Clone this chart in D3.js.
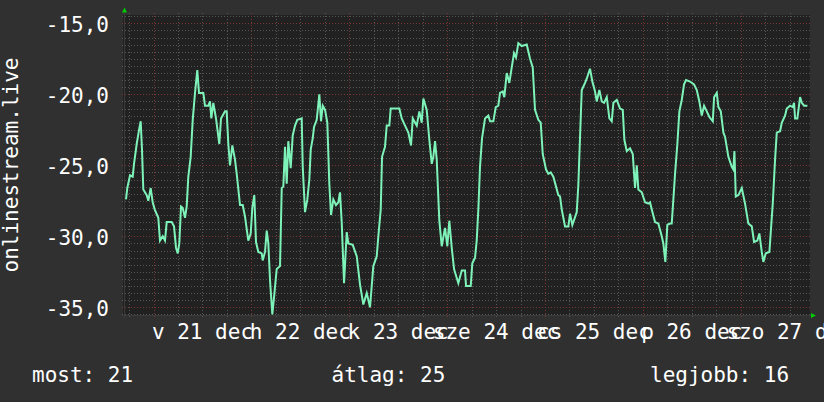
<!DOCTYPE html>
<html><head><meta charset="utf-8">
<script src="https://cdn.jsdelivr.net/npm/d3@7"></script>
<style>html,body{margin:0;padding:0;background:#303030;overflow:hidden} svg{display:block}</style>
</head><body>
<svg id="c" width="824" height="402"></svg>
<script>
// ---- data ----
const dayAbbr = ["v","h","k","sze","cs","p","szo"];
const dayNames = ["vasárnap","hétfő","kedd","szerda","csütörtök","péntek","szombat"];
const monthAbbr = ["jan","febr","márc","ápr","máj","jún","júl","aug","szept","okt","nov","dec"];
const monthNames = ["január","február","március","április","május","június","július","augusztus","szeptember","október","november","december"];
const yTickValues = [-35,-30,-25,-20,-15];
const yTitle = "onlinestream.live";
const legendLabels = ["most","átlag","legjobb"];
const legendValues = [21,25,16];
const startTime = new Date(2014,11,20,17,0);
const endTime = new Date(2014,11,27,17,0);
// hours since startTime
const hours = [0.25,0.56,1.23,1.89,2.21,2.87,3.51,3.85,4.17,4.49,5.32,5.72,6.30,6.79,7.28,8.17,8.58,9.25,9.81,10.23,11.45,12.02,12.51,12.93,13.32,13.74,14.15,14.72,15.13,15.53,16.11,16.61,17.17,17.73,18.15,19.21,19.62,20.43,20.85,21.17,21.66,22.32,23.13,23.55,24.53,24.94,25.34,25.75,26.32,26.98,27.40,28.21,28.87,29.43,30.24,30.83,31.22,31.71,32.13,32.70,33.53,33.77,34.34,34.76,35.15,35.57,36.13,36.55,37.21,38.02,38.44,38.83,39.24,39.66,40.05,40.64,41.13,41.70,42.26,43.34,43.59,44.15,44.72,45.21,45.55,46.04,46.36,47.02,47.66,48.07,48.49,49.06,49.62,50.11,50.53,51.09,51.75,52.32,52.73,53.15,53.72,54.38,54.77,55.85,56.83,57.64,
58.45,59.29,60.09,60.90,61.74,62.13,62.72,63.04,63.77,64.19,64.83,65.17,67.28,67.87,68.68,69.49,70.15,70.57,71.55,72.19,72.77,73.17,74.00,74.64,75.23,75.62,76.04,76.45,77.09,77.68,78.49,79.05,79.54,80.13,80.70,81.75,82.59,83.39,83.64,84.79,85.18,85.85,86.26,86.66,87.07,87.56,88.30,89.11,89.53,90.34,90.93,91.56,91.98,92.64,93.03,93.62,94.26,94.85,95.41,95.90,96.47,97.30,98.53,99.34,100.00,100.56,101.37,101.96,102.45,103.26,103.83,104.42,105.05,105.72,106.28,106.70,107.11,107.92,108.73,109.15,109.71,110.79,111.18,111.60,112.02,112.83,113.24,114.05,114.62,115.28,115.70,116.34,116.93,117.49,118.15,118.79,
119.38,119.78,120.61,121.41,122.08,122.47,123.06,123.87,124.53,125.09,125.51,125.90,126.74,127.54,128.35,128.77,129.18,129.99,130.80,131.64,132.03,132.52,133.01,133.68,134.09,134.49,134.90,135.47,135.96,136.55,137.11,137.60,138.58,139.56,140.23,140.86,141.45,142.02,142.68,143.32,144.16,144.48,145.14,145.54,146.12,146.76,147.17,147.98,148.82,149.21,149.46,149.80,150.44,151.27,152.07,152.88,153.72,154.28,155.09,155.58,156.17,156.56,157.15,158.04,158.45,158.87,159.43,159.85,160.66,161.07,161.88,162.30,163.11,163.77,164.09,164.34,164.90,165.57,165.99,166.55,167.36];
const values = [-27.4,-26.6,-25.7,-25.8,-24.9,-23.5,-22.4,-21.9,-23.9,-26.7,-27.1,-27.5,-26.6,-27.6,-28.1,-28.7,-30.3,-30.0,-30.3,-29.0,-29.0,-29.3,-30.8,-31.2,-30.5,-27.9,-28.0,-28.7,-27.9,-25.8,-24.4,-21.8,-19.9,-18.3,-19.9,-19.9,-20.8,-20.8,-20.5,-21.7,-20.6,-21.7,-23.5,-21.7,-21.2,-21.2,-23.5,-25.0,-23.6,-24.6,-25.6,-27.8,-27.8,-28.6,-30.3,-29.8,-28.0,-27.1,-30.4,-31.1,-31.2,-31.7,-31.1,-29.6,-30.5,-33.1,-35.5,-34.3,-32.3,-32.1,-26.6,-26.5,-23.7,-26.3,-23.3,-25.2,-22.9,-22.2,-21.8,-21.7,-25.1,-28.3,-27.4,-26.0,-23.9,-23.1,-22.3,-21.8,-20.0,-21.9,-20.8,-21.1,-22.0,-26.3,-28.5,-27.4,-27.8,-27.6,-26.9,-29.0,-33.3,-29.7,-30.5,-30.6,-31.4,-33.4,
-34.8,-34.0,-35.0,-32.1,-31.4,-30.0,-28.1,-24.4,-23.7,-22.2,-22.2,-21.0,-21.0,-21.7,-22.2,-22.7,-23.6,-21.7,-22.2,-21.2,-22.0,-20.3,-21.1,-23.2,-24.9,-24.4,-23.3,-24.6,-28.9,-30.7,-29.4,-30.7,-28.9,-30.8,-32.3,-33.3,-32.4,-32.4,-33.5,-33.5,-31.9,-31.5,-30.3,-28.1,-25.1,-23.1,-21.7,-21.5,-21.9,-21.9,-20.9,-20.8,-19.9,-19.8,-20.2,-18.5,-19.2,-18.1,-17.1,-17.4,-16.4,-16.6,-16.5,-17.5,-18.1,-21.1,-21.8,-22.0,-24.2,-25.3,-25.6,-25.5,-25.8,-26.5,-27.1,-27.2,-28.1,-29.3,-29.3,-28.4,-29.2,-28.3,-26.4,-23.0,-19.7,-19.2,-18.9,-18.2,-19.1,-19.8,-20.5,-19.7,-20.5,-20.6,-20.2,-21.7,
-21.9,-20.6,-20.4,-21.0,-21.1,-23.2,-24.0,-23.8,-24.2,-26.6,-25.0,-26.7,-26.9,-27.6,-27.7,-27.6,-28.1,-29.0,-29.1,-30.0,-30.5,-31.8,-29.2,-29.1,-29.1,-27.4,-25.6,-23.5,-21.2,-20.4,-19.3,-19.0,-19.1,-19.3,-19.7,-20.5,-21.5,-20.8,-21.2,-21.6,-21.9,-20.2,-19.9,-20.9,-21.2,-22.7,-23.0,-24.4,-25.1,-25.3,-24.0,-27.2,-27.1,-26.6,-27.7,-29.1,-29.3,-30.4,-30.3,-29.8,-31.1,-31.8,-31.2,-31.1,-29.4,-27.7,-24.6,-22.7,-22.6,-22.0,-21.5,-21.0,-20.8,-20.9,-20.6,-21.7,-21.7,-20.2,-20.6,-20.8,-20.8];

// ---- layout ----
const W = 824, H = 402;
const L = 125, R = 810, T = 15, B = 315;
const FONT = "'DejaVu Sans Mono', monospace";
const FS = 21;

const svg = d3.select("#c");
svg.append("rect").attr("width", W).attr("height", H).attr("fill", "#303030");

const x = d3.scaleTime().domain([startTime, endTime]).range([L, R]);
const y = d3.scaleLinear().domain([-35.54, -14.415]).range([B, T]);

const huLocale = d3.timeFormatLocale({
  dateTime: "%Y. %B %-e., %A %X", date: "%Y. %m. %d.", time: "%H:%M:%S",
  periods: ["de","du"], days: dayNames, shortDays: dayAbbr,
  months: monthNames, shortMonths: monthAbbr
});
const fmtDay = huLocale.format("%a %d %b");
const numLocale = d3.formatLocale({decimal: ",", thousands: " ", grouping: [3], currency: ["", " Ft"], minus: "-"});
const fmtY = numLocale.format(".1f");

// plot background
svg.append("rect").attr("x", L - 2).attr("y", T).attr("width", R - L + 2).attr("height", B - T).attr("fill", "#212121");

const grid = svg.append("g");
// minor horizontal (0.5 step)
const minorY = d3.range(-35.5, -14.4, 0.5).filter(v => !yTickValues.includes(v));
grid.selectAll(".hmin").data(minorY).join("line")
  .attr("x1", L - 3).attr("x2", R + 1)
  .attr("y1", d => Math.round(y(d)) + 0.5).attr("y2", d => Math.round(y(d)) + 0.5)
  .attr("stroke", "#565656").attr("stroke-width", 1).attr("stroke-dasharray", "1,2");
// minor vertical (6 hours)
const minorX = d3.timeHour.every(6).range(startTime, endTime).filter(d => d.getHours() !== 0);
grid.selectAll(".vmin").data(minorX).join("line")
  .attr("x1", d => Math.round(x(d)) + 0.5).attr("x2", d => Math.round(x(d)) + 0.5)
  .attr("y1", T - 2).attr("y2", B + 3)
  .attr("stroke", "#565656").attr("stroke-width", 1).attr("stroke-dasharray", "1,2");
// major horizontal
grid.selectAll(".hmaj").data(yTickValues).join("line")
  .attr("x1", L - 3).attr("x2", R + 1)
  .attr("y1", d => Math.round(y(d)) + 0.5).attr("y2", d => Math.round(y(d)) + 0.5)
  .attr("stroke", "#7a3434").attr("stroke-width", 1).attr("stroke-dasharray", "1,2");
// major vertical (days)
const days = d3.timeDay.range(startTime, endTime);
grid.selectAll(".vmaj").data(days).join("line")
  .attr("x1", d => Math.round(x(d)) + 0.5).attr("x2", d => Math.round(x(d)) + 0.5)
  .attr("y1", T - 2).attr("y2", B + 3)
  .attr("stroke", "#7a3434").attr("stroke-width", 1).attr("stroke-dasharray", "1,2");

// axes lines
svg.append("line").attr("x1", L - 3).attr("x2", R + 4).attr("y1", B + 0.5).attr("y2", B + 0.5).attr("stroke", "#3a3a3a");
svg.append("line").attr("x1", L - 0.5).attr("x2", L - 0.5).attr("y1", B + 3).attr("y2", T - 4).attr("stroke", "#3a3a3a");

// data line
const pts = hours.map((h, i) => ({t: new Date(startTime.getTime() + h * 3600e3), v: values[i]}));
svg.append("path").datum(pts)
  .attr("d", d3.line().x(d => x(d.t)).y(d => y(d.v)))
  .attr("fill", "none").attr("stroke", "#7ef3b9").attr("stroke-width", 2).attr("stroke-linejoin", "miter");

// arrows
svg.append("path").attr("d", `M${L - 3},${T - 2.5} L${L + 2},${T - 2.5} L${L - 0.5},${T - 7.5} Z`).attr("fill", "#00cc00");
svg.append("path").attr("d", `M${R + 1},${B - 2} L${R + 1},${B + 3} L${R + 6},${B + 0.5} Z`).attr("fill", "#00cc00");

// y tick labels
svg.selectAll(".ylab").data(yTickValues).join("text")
  .attr("x", 109).attr("y", d => y(d) + 8.3)
  .attr("text-anchor", "end").attr("font-family", FONT).attr("font-size", FS).attr("fill", "#ffffff")
  .text(d => fmtY(d));

// x labels (centered at noon of each day)
const labelDays = days.filter(d => d3.timeHour.offset(d, 12) <= endTime);
svg.selectAll(".xlab").data(labelDays).join("text")
  .attr("x", d => x(d3.timeHour.offset(d, 12))).attr("y", 339)
  .attr("text-anchor", "middle").attr("font-family", FONT).attr("font-size", FS).attr("fill", "#ffffff")
  .text(d => fmtDay(d));

// y title
svg.append("text").attr("transform", `translate(17.5,${(T + B) / 2}) rotate(-90)`)
  .attr("text-anchor", "middle").attr("font-family", FONT).attr("font-size", FS).attr("fill", "#ffffff")
  .text(yTitle);

// legend
const legendX = [32, 331.5, 650];
svg.selectAll(".leg").data(legendLabels).join("text")
  .attr("x", (d, i) => legendX[i]).attr("y", 381.5)
  .attr("font-family", FONT).attr("font-size", FS).attr("fill", "#ffffff")
  .text((d, i) => `${d}: ${legendValues[i]}`);
</script>
</body></html>
